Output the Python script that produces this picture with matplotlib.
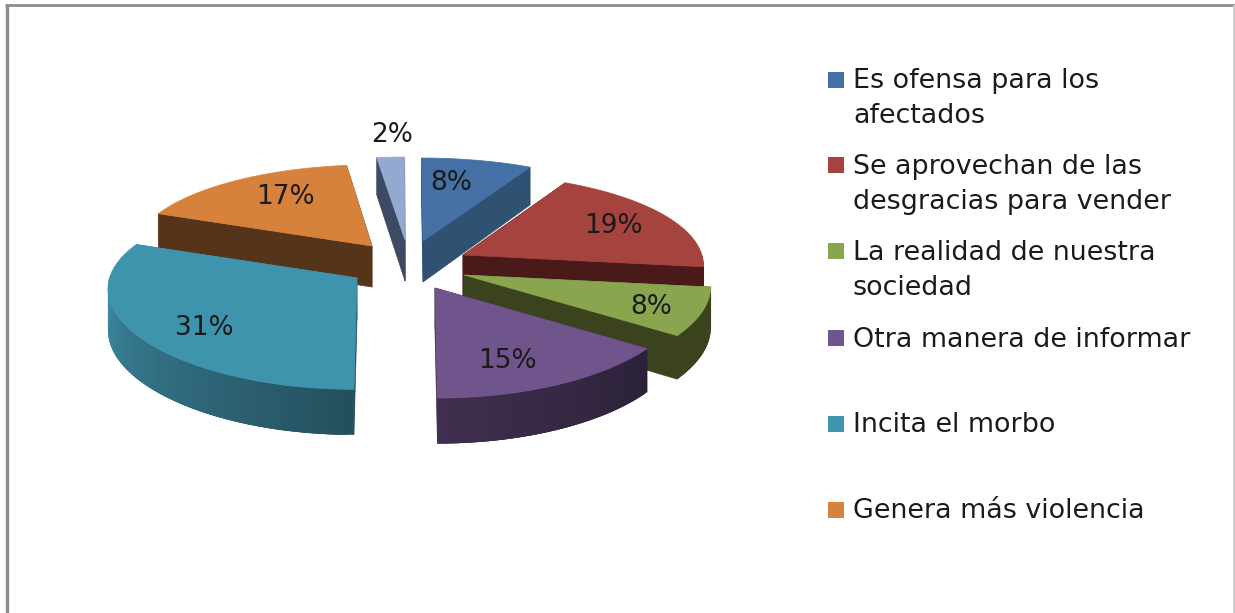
import numpy as np
import matplotlib
matplotlib.use('Agg')
import matplotlib.pyplot as plt
from matplotlib.colors import to_rgb
from matplotlib.patches import Rectangle, Polygon
from matplotlib.collections import PolyCollection

# chart data
values = [8, 19, 8, 15, 31, 17, 2]
categories = ['Es ofensa para los\nafectados',
              'Se aprovechan de las\ndesgracias para vender',
              'La realidad de nuestra\nsociedad',
              'Otra manera de informar',
              'Incita el morbo',
              'Genera más violencia']

# styling
top_colors = ['#4470a5', '#a5433f', '#89a54e', '#70558c', '#3f94ad', '#d7823c', '#93a9cf']
wall_start = ['#2f5272', '#4a1a18', '#3a431e', '#2b2138', '#24505e', '#56341a', '#3d4a63']
wall_end = ['#2f5272', '#4a1a18', '#3a431e', '#40304f', '#3f8ca4', '#56341a', '#3d4a63']
apex_px = [(423, 241), (463, 255), (464, 275), (435, 288), (357, 278), (372, 246), (405, 240)]
slice_radius = [1.0, 0.975, 1.0, 1.0, 1.01, 0.975, 1.0]
label_px = [(451, 183), (613, 226), (651, 307), (507, 361), (204, 328), (285, 197), (392, 135)]
draw_order = [5, 6, 0, 1, 4, 2, 3]

legend_y = [80, 165, 251, 338, 424, 510]
text_y = [88, 174, 260, 347, 432, 518]
line_gap = 35

RX, RY, DEPTH = 245.0, 94.6, 41.0
PERSP_X, PERSP_Y, SKEW, CENTER_X = 0.10, 0.14, 0.07, 400.0


def project(theta, apex, drop=0.0, radius=1.0):
    """Perspective projection of a rim point, relative to the slice apex."""
    u = np.sin(theta) * radius
    v = -np.cos(theta) * radius
    sx = 1.0 / (1.0 - PERSP_X * v)
    sy = 1.0 / (1.0 - PERSP_Y * v)
    x = apex[0] + RX * u * sx + (apex[0] - CENTER_X) * SKEW * v
    y = apex[1] + RY * v * sy + DEPTH * sx * drop
    return x, y


def draw_slice(ax, t0, t1, apex, radius, top, c_start, c_end):
    thetas = np.linspace(t0, t1, 90)
    rim_x, rim_y = project(thetas, apex, radius=radius)
    low_x, low_y = project(thetas, apex, drop=1.0, radius=radius)
    ax_low = (apex[0], apex[1] + DEPTH)

    # radial walls, the one further back goes first
    edges = [(rim_x[0], rim_y[0], low_x[0], low_y[0], c_start),
             (rim_x[-1], rim_y[-1], low_x[-1], low_y[-1], c_end)]
    edges.sort(key=lambda e: e[1])
    for ex, ey, lx, ly, col in edges:
        ax.add_patch(Polygon([apex, (ex, ey), (lx, ly), ax_low], closed=True,
                             facecolor=col, edgecolor=col, lw=0.5))

    # rim wall, only the part facing the viewer, shaded along the arc
    polys, cols = [], []
    a, b = np.array(to_rgb(c_start)), np.array(to_rgb(c_end))
    front = np.where(np.cos(thetas) < 0.03)[0]
    if len(front) > 1:
        for n, i in enumerate(front[:-1]):
            j = front[min(n + 3, len(front) - 1)]  # overlap hides the seams
            polys.append([(rim_x[i], rim_y[i]), (rim_x[j], rim_y[j]),
                          (low_x[j], low_y[j]), (low_x[i], low_y[i])])
            f = (i - front[0]) / max(front[-1] - front[0], 1)
            cols.append(a + (b - a) * f)
        ax.add_collection(PolyCollection(polys, facecolors=cols, edgecolors='none'))

    # top face
    pts = [apex] + list(zip(rim_x, rim_y))
    ax.add_patch(Polygon(pts, closed=True, facecolor=top, edgecolor=top, lw=0.5))


def main():
    fig = plt.figure(figsize=(12.35, 6.13), dpi=100)
    ax = fig.add_axes([0, 0, 1, 1])
    ax.set_xlim(0, 1235)
    ax.set_ylim(613, 0)
    ax.axis('off')

    # chart frame
    ax.plot([6.5, 6.5], [613, 5], color='#8c8c8c', lw=2.4, solid_capstyle='butt')
    ax.plot([5, 1235], [5, 5], color='#8c8c8c', lw=2.0, solid_capstyle='butt')
    ax.plot([1234, 1234], [5, 613], color='#cccccc', lw=1.4, solid_capstyle='butt')

    total = float(sum(values))
    edges = np.concatenate([[0], np.cumsum(values)]) / total * 2 * np.pi
    for i in draw_order:
        draw_slice(ax, edges[i], edges[i + 1], apex_px[i], slice_radius[i], top_colors[i],
                   wall_start[i], wall_end[i])

    for v, (x, y) in zip(values, label_px):
        ax.text(x, y, f'{v}%', ha='center', va='center', fontsize=19, color='#1a1a1a')

    for name, col, sq_y, ty in zip(categories, top_colors, legend_y, text_y):
        ax.add_patch(Rectangle((827.5, sq_y - 8), 16, 16, facecolor=col, edgecolor='none'))
        for k, line in enumerate(name.split('\n')):
            ax.text(853, ty + k * line_gap, line, ha='left', va='baseline',
                    fontsize=19.4, color='#1a1a1a')

    fig.savefig('out.png', dpi=100)


if __name__ == "__main__":
    main()
